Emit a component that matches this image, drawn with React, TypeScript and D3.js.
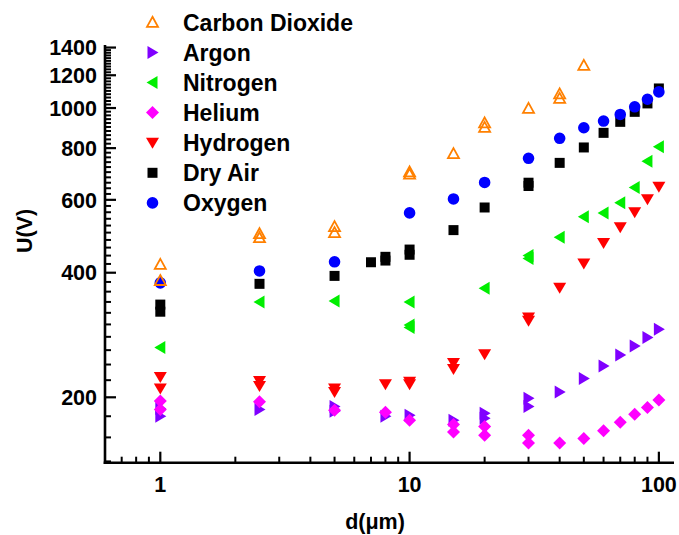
import React, { useEffect, useRef } from "react";
import * as d3 from "d3";

// breakdown voltage U (V) vs gap d (um)
const co2D = [1, 1, 2.5, 2.5, 5, 5, 10, 10, 15, 20, 20, 30, 40, 40, 50];
const co2U = [419, 383, 497, 486, 517, 500, 701, 692, 776, 921, 898, 998, 1082, 1055, 1268];

const argonD = [1, 1, 2.5, 5, 5, 8, 10, 15, 20, 20, 30, 30, 40, 50, 60, 70, 80, 90, 100];
const argonU = [188, 180, 187, 190, 185, 180, 181, 176, 183, 178, 199, 190, 206, 222, 238, 253, 266, 279, 292];

const nitrogenD = [1, 2.5, 5, 10, 10, 10, 20, 30, 30, 40, 50, 60, 70, 80, 90, 100];
const nitrogenU = [264, 340, 342, 340, 299, 295, 367, 440, 433, 487, 546, 558, 590, 643, 744, 806];

const heliumD = [1, 1, 2.5, 5, 8, 10, 15, 15, 20, 20, 30, 30, 40, 50, 60, 70, 80, 90, 100];
const heliumU = [196, 187, 195, 186, 184, 176, 172, 165, 170, 162, 162, 155, 155, 159, 166, 174, 182, 189, 197];

const hydrogenD = [1, 1, 2.5, 2.5, 5, 5, 8, 10, 10, 15, 15, 20, 30, 30, 40, 50, 60, 70, 80, 90, 100];
const hydrogenU = [224, 210, 219, 213, 210, 206, 215, 218, 215, 242, 234, 254, 312, 306, 368, 421, 472, 515, 560, 602, 645];

const airD = [1, 1, 2.5, 5, 7, 8, 8, 10, 10, 15, 20, 30, 30, 40, 50, 60, 70, 80, 90, 100];
const airU = [335, 322, 376, 393, 424, 437, 428, 455, 442, 507, 575, 660, 648, 737, 803, 871, 926, 979, 1026, 1115];

const oxygenD = [1, 2.5, 5, 10, 15, 20, 30, 40, 50, 60, 70, 80, 90, 100];
const oxygenU = [378, 404, 425, 558, 603, 661, 756, 845, 896, 930, 965, 1007, 1050, 1094];

const legendNames = ["Carbon Dioxide", "Argon", "Nitrogen", "Helium", "Hydrogen", "Dry Air", "Oxygen"];

const yMajor = [200, 400, 600, 800, 1000, 1200, 1400];
const xMajor = [1, 10, 100];

const FONT = "'Liberation Sans', Arial, sans-serif";

const series = [
  { name: "Carbon Dioxide", d: co2D, u: co2U, shape: "triUp", color: "#ff8000", open: true },
  { name: "Argon", d: argonD, u: argonU, shape: "triRight", color: "#8000ff" },
  { name: "Nitrogen", d: nitrogenD, u: nitrogenU, shape: "triLeft", color: "#00ee00" },
  { name: "Helium", d: heliumD, u: heliumU, shape: "diamond", color: "#ff00ff" },
  { name: "Hydrogen", d: hydrogenD, u: hydrogenU, shape: "triDown", color: "#ff0000" },
  { name: "Dry Air", d: airD, u: airU, shape: "square", color: "#000000" },
  { name: "Oxygen", d: oxygenD, u: oxygenU, shape: "circle", color: "#0000ff" },
];

// order the markers are painted in (later ones on top)
const drawOrder = ["Argon", "Helium", "Hydrogen", "Nitrogen", "Dry Air", "Oxygen", "Carbon Dioxide"];

function markerPath(shape: string): string {
  switch (shape) {
    case "triUp": return "M0,-5.5L5.5,4.5L-5.5,4.5Z";
    case "triDown": return "M-6.5,-5L6.5,-5L0,6Z";
    case "triRight": return "M-5,-6.5L6,0L-5,6.5Z";
    case "triLeft": return "M5,-6.5L-6,0L5,6.5Z";
    case "diamond": return "M0,-6.5L6.5,0L0,6.5L-6.5,0Z";
    case "square": return "M-5,-5H5V5H-5Z";
    default: return d3.symbol(d3.symbolCircle, Math.PI * 5.8 * 5.8)() as string;
  }
}

export default function App() {
  const ref = useRef<SVGSVGElement>(null);

  useEffect(() => {
    const svg = d3.select(ref.current);
    svg.selectAll("*").remove();

    const x = d3.scaleLog().domain([0.6, 115]).range([105, 674]);
    const y = d3.scaleLog().domain([139, 1420]).range([462.7, 45]);
    const x0 = x.range()[0];
    const y0 = y.range()[0];

    // minor ticks
    const xMinor: number[] = [];
    [0.1, 1, 10].forEach(dec => {
      for (let k = 2; k <= 9; k++) {
        const v = k * dec;
        if (v > 0.6 && v < 115) xMinor.push(v);
      }
    });
    const yMinor: number[] = [];
    for (let v = 140; v <= 1400; v += 20) if (!yMajor.includes(v)) yMinor.push(v);

    const axes = svg.append("g").attr("stroke", "#000");

    axes.selectAll(".xminor").data(xMinor).join("line")
      .attr("x1", d => x(d)).attr("x2", d => x(d))
      .attr("y1", y0).attr("y2", y0 - 6).attr("stroke-width", 2);
    axes.selectAll(".xmajor").data(xMajor).join("line")
      .attr("x1", d => x(d)).attr("x2", d => x(d))
      .attr("y1", y0).attr("y2", y0 - 11).attr("stroke-width", 2.2);
    axes.selectAll(".yminor").data(yMinor).join("line")
      .attr("x1", x0).attr("x2", x0 + 6)
      .attr("y1", d => y(d)).attr("y2", d => y(d)).attr("stroke-width", 2);
    axes.selectAll(".ymajor").data(yMajor).join("line")
      .attr("x1", x0).attr("x2", x0 + 11)
      .attr("y1", d => y(d)).attr("y2", d => y(d)).attr("stroke-width", 2.2);

    axes.append("line").attr("x1", x0).attr("x2", x0)
      .attr("y1", y.range()[1]).attr("y2", y0 + 1.3).attr("stroke-width", 2.6);
    axes.append("line").attr("x1", x0 - 1.3).attr("x2", x.range()[1])
      .attr("y1", y0).attr("y2", y0).attr("stroke-width", 2.6);

    const txt = svg.append("g").attr("font-family", FONT).attr("font-weight", "bold").attr("fill", "#000");

    txt.selectAll(".ylab").data(yMajor).join("text")
      .attr("x", x0 - 8).attr("y", d => y(d) + 7.7)
      .attr("text-anchor", "end").attr("font-size", 21.5)
      .text(d => String(d));
    txt.selectAll(".xlab").data(xMajor).join("text")
      .attr("x", d => x(d)).attr("y", 492)
      .attr("text-anchor", "middle").attr("font-size", 21.5)
      .text(d => String(d));

    txt.append("text").attr("x", 375).attr("y", 529)
      .attr("text-anchor", "middle").attr("font-size", 21.5).text("d(\u03bcm)");
    txt.append("text").attr("transform", "translate(32,231) rotate(-90)")
      .attr("text-anchor", "middle").attr("font-size", 21.5).text("U(V)");

    // data markers
    drawOrder.forEach(nm => {
      const s = series.find(q => q.name === nm)!;
      const pts = s.d.map((d, i) => ({ d, u: s.u[i] }));
      svg.append("g").selectAll("path").data(pts).join("path")
        .attr("transform", p => `translate(${x(p.d)},${y(p.u)})`)
        .attr("d", markerPath(s.shape))
        .attr("fill", s.open ? "none" : s.color)
        .attr("stroke", s.open ? s.color : "none")
        .attr("stroke-width", s.open ? 1.8 : 0);
    });

    // legend
    const leg = svg.append("g");
    legendNames.forEach((nm, i) => {
      const s = series.find(q => q.name === nm)!;
      const ly = 22.3 + i * 30.1;
      leg.append("path")
        .attr("transform", `translate(152.5,${ly})`)
        .attr("d", markerPath(s.shape))
        .attr("fill", s.open ? "none" : s.color)
        .attr("stroke", s.open ? s.color : "none")
        .attr("stroke-width", s.open ? 1.8 : 0);
      leg.append("text")
        .attr("x", 183).attr("y", ly + 8.2)
        .attr("font-family", FONT).attr("font-weight", "bold").attr("font-size", 23)
        .text(nm);
    });
  }, []);

  return (
    <svg ref={ref} width={679} height={535}
      style={{ position: "absolute", left: 0, top: 0, background: "#fff" }} />
  );
}
